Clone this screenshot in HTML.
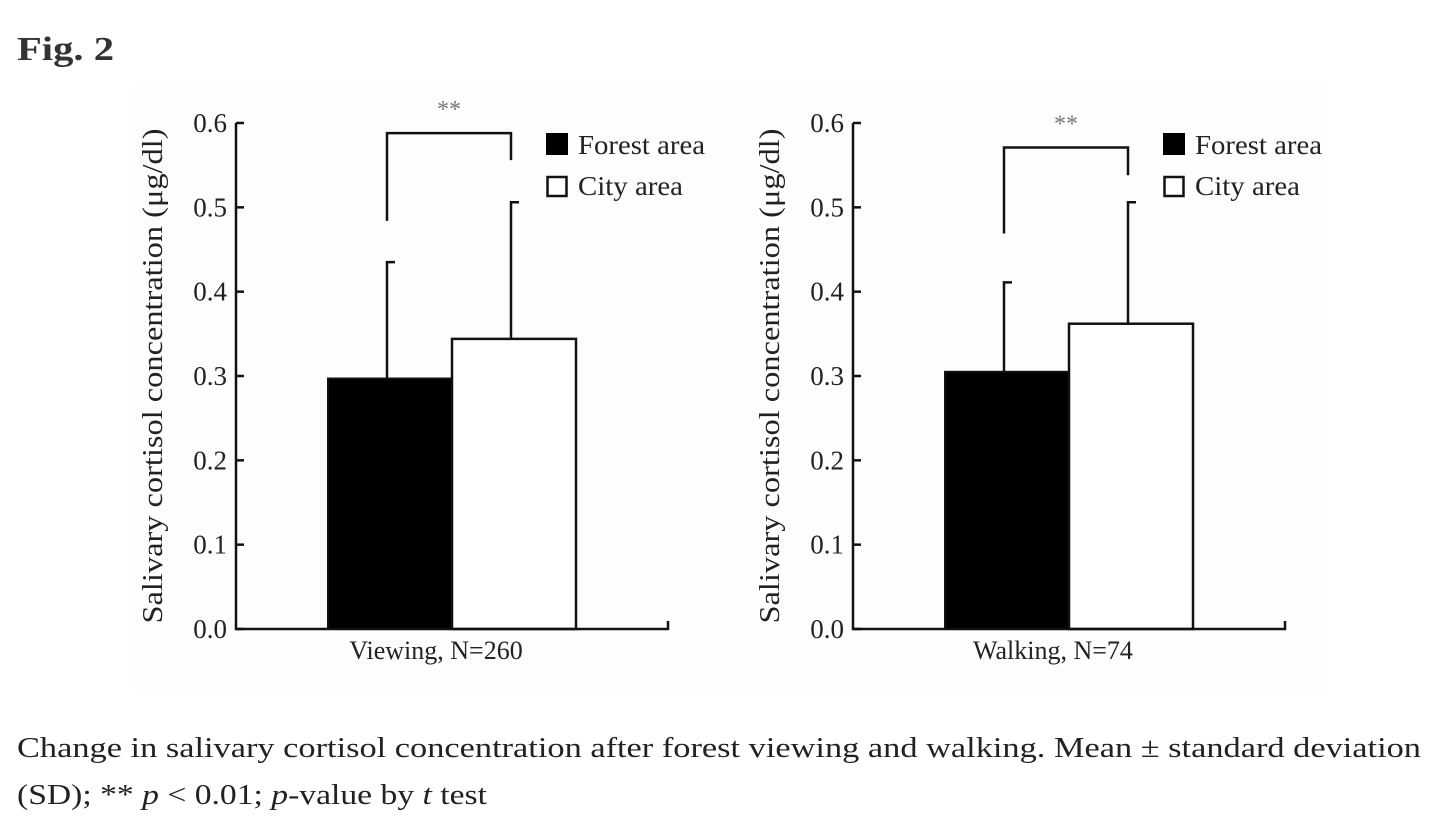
<!DOCTYPE html>
<html><head><meta charset="utf-8"><style>
html,body{margin:0;padding:0;background:#fff;}
svg{display:block;}
text{font-family:"Liberation Serif",serif;}
</style></head><body>
<svg id="fig" width="1456" height="830" viewBox="0 0 1456 830">
<text x="17" y="60" font-size="34" font-weight="bold" fill="#333" textLength="97" lengthAdjust="spacingAndGlyphs">Fig. 2</text>
<rect x="135" y="85" width="1190" height="605" fill="#fdfdfd"/>
<g id="charts"></g>
<text x="17" y="757" font-size="29" fill="#222" textLength="1404" lengthAdjust="spacingAndGlyphs">Change in salivary cortisol concentration after forest viewing and walking. Mean ± standard deviation</text>
<text x="17" y="804" font-size="29" fill="#222" textLength="470" lengthAdjust="spacingAndGlyphs">(SD); ** <tspan font-style="italic">p</tspan> &lt; 0.01; <tspan font-style="italic">p</tspan>-value by <tspan font-style="italic">t</tspan> test</text>
</svg>
<script>
const panelLabels = ["Viewing, N=260", "Walking, N=74"];
const forestMeans = [0.297, 0.305];
const cityMeans = [0.344, 0.362];
const forestSD = [0.138, 0.106];
const citySD = [0.162, 0.144];
const bracketLeftBottom = [0.484, 0.469];
const bracketTop = [0.588, 0.571];
const bracketRightBottom = [0.556, 0.538];
const yTicks = [0.0, 0.1, 0.2, 0.3, 0.4, 0.5, 0.6];
const yTickLabels = ["0.0", "0.1", "0.2", "0.3", "0.4", "0.5", "0.6"];

const NS = "http://www.w3.org/2000/svg";
const root = document.getElementById('charts');
const panelX = [236, 853];
const yTop = 123, yBot = 629;
function yScale(v){ return yBot - (v / 0.6) * (yBot - yTop); }
function mk(tag, attrs, parent){
  const e = document.createElementNS(NS, tag);
  for (const k in attrs) e.setAttribute(k, attrs[k]);
  parent.appendChild(e);
  return e;
}
panelLabels.forEach((lab, i) => {
  const ox = panelX[i];
  const g = mk('g', {}, root);
  
  
  const xAxisEnd = ox + 432;
  const bw = 124;
  const fx = ox + 92, cx = fx + bw;
  const fy = yScale(forestMeans[i]);
  const fb = mk('rect', {x: fx, y: fy, width: bw, height: yBot - fy, fill: '#000', stroke: '#111', 'stroke-width': 2}, g);
  
  
  const cy = yScale(cityMeans[i]);
  const cb = mk('rect', {x: cx, y: cy, width: bw, height: yBot - cy, fill: '#fff', stroke: '#111', 'stroke-width': 2.5}, g);
  
  
  const fxc = fx + bw / 2 - 3, cxc = cx + bw / 2 - 3;
  const fe = mk('path', {d: `M${fxc},${fy} V${yScale(forestMeans[i] + forestSD[i])} h8`, stroke: '#111', 'stroke-width': 2.5, fill: 'none'}, g);
  
  
  const ce = mk('path', {d: `M${cxc},${cy} V${yScale(cityMeans[i] + citySD[i])} h8`, stroke: '#111', 'stroke-width': 2.5, fill: 'none'}, g);
  
  
  const bt = yScale(bracketTop[i]);
  const br = mk('path', {d: `M${fxc},${yScale(bracketLeftBottom[i])} V${bt} H${cxc} V${yScale(bracketRightBottom[i])}`, stroke: '#111', 'stroke-width': 2.5, fill: 'none'}, g);
  
  
  const st = mk('text', {x: (fxc + cxc) / 2, y: bt - 16, 'font-size': 24, fill: '#777', 'text-anchor': 'middle'}, g);
  st.textContent = '**';
  
  
  const ax = mk('path', {d: `M${ox},${yTop} V${yBot} H${xAxisEnd} v-8`, stroke: '#111', 'stroke-width': 2.5, fill: 'none'}, g);
  
  
  yTicks.forEach((t, j) => {
    const y = yScale(t);
    const tk = mk('line', {x1: ox, x2: ox + 8, y1: y, y2: y, stroke: '#111', 'stroke-width': 2.5}, g);
    
    
    const tl = mk('text', {x: ox - 9, y: y + 9, 'font-size': 27, fill: '#222', 'text-anchor': 'end'}, g);
    tl.textContent = yTickLabels[j];
    
    
  });
  const yt = mk('text', {x: 0, y: 0, 'font-size': 28, fill: '#222', 'text-anchor': 'middle', textLength: 495, lengthAdjust: 'spacingAndGlyphs', transform: `translate(${ox - 74},${(yTop + yBot) / 2}) rotate(-90)`}, g);
  yt.textContent = 'Salivary cortisol concentration (μg/dl)';
  
  
  const xl = mk('text', {x: fx + bw - 16, y: 659, 'font-size': 26, fill: '#222', 'text-anchor': 'middle'}, g);
  xl.textContent = lab;
  
  
  const lx = ox + 310;
  const l1 = mk('rect', {x: lx, y: 133, width: 22, height: 22, fill: '#000'}, g);
  
  
  const t1 = mk('text', {x: lx + 32, y: 154, 'font-size': 27, fill: '#222', textLength: 127, lengthAdjust: 'spacingAndGlyphs'}, g);
  t1.textContent = 'Forest area';
  
  
  const l2 = mk('rect', {x: lx + 1.5, y: 177, width: 19, height: 19, fill: '#fff', stroke: '#111', 'stroke-width': 2.5}, g);
  
  
  const t2 = mk('text', {x: lx + 32, y: 195, 'font-size': 27, fill: '#222', textLength: 105, lengthAdjust: 'spacingAndGlyphs'}, g);
  t2.textContent = 'City area';
  
  
});
</script>
</body></html>
